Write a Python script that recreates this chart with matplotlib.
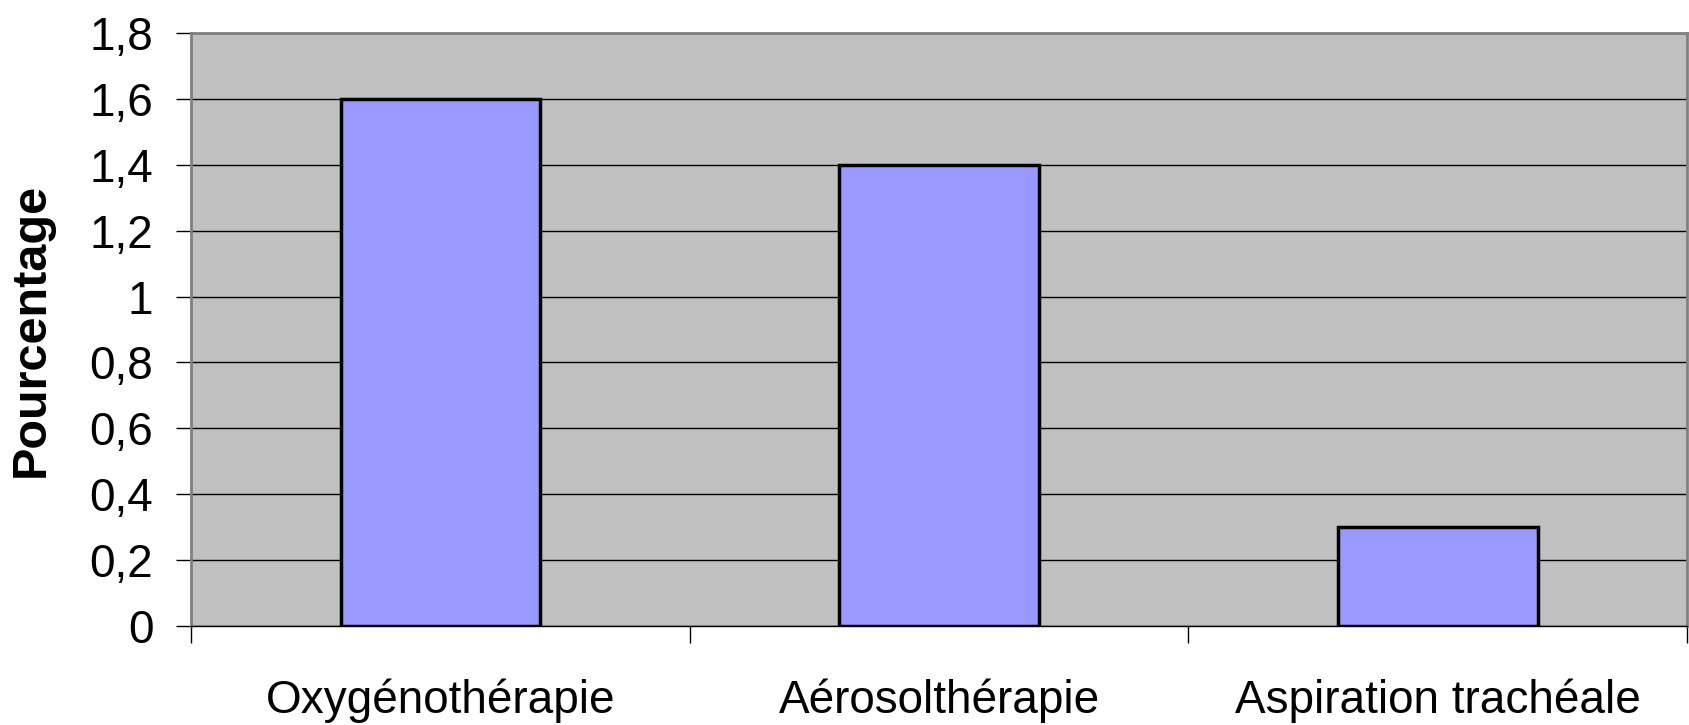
import numpy as np
import matplotlib.pyplot as plt
from matplotlib.ticker import FixedLocator

# Data
categories = ['Oxygénothérapie', 'Aérosolthérapie', 'Aspiration trachéale']
values = [1.6, 1.4, 0.3]
yticks = [0, 0.2, 0.4, 0.6, 0.8, 1, 1.2, 1.4, 1.6, 1.8]
ytick_labels = ['0', '0,2', '0,4', '0,6', '0,8', '1', '1,2', '1,4', '1,6', '1,8']

fig = plt.figure(figsize=(16.89, 7.25), dpi=100)
ax = fig.add_axes([0.113, 0.137, 0.886, 0.817])
ax.set_facecolor('#C0C0C0')

x = np.arange(len(categories))
ax.bar(x, values, width=0.4, color='#9999FF', edgecolor='black', linewidth=2.5, zorder=3)

ax.set_xlim(-0.5, len(categories) - 0.5)
ax.set_ylim(0, 1.8)

# horizontal gridlines
ax.set_yticks(yticks)
ax.set_yticklabels(ytick_labels, family='Liberation Sans', fontsize=33)
ax.yaxis.grid(True, color='black', linewidth=1, zorder=1)
ax.set_axisbelow(True)

# category labels at centres, ticks on the boundaries
ax.set_xticks(x)
ax.set_xticklabels(categories, family='Liberation Sans', fontsize=33)
ax.tick_params(axis='x', which='major', length=0, pad=38)
ax.xaxis.set_minor_locator(FixedLocator(np.arange(-0.5, len(categories), 1.0)))
ax.tick_params(axis='x', which='minor', length=12, width=1, color='black')
ax.tick_params(axis='y', length=11, width=1, pad=16, color='black')

ax.set_ylabel('Pourcentage', family='Liberation Sans', fontsize=35, fontweight='bold', labelpad=26)

for side in ['top', 'right', 'left']:
    ax.spines[side].set_color('#808080')
    ax.spines[side].set_linewidth(2)
ax.spines['bottom'].set_color('black')
ax.spines['bottom'].set_linewidth(1)

fig.savefig('out.png', dpi=100)
